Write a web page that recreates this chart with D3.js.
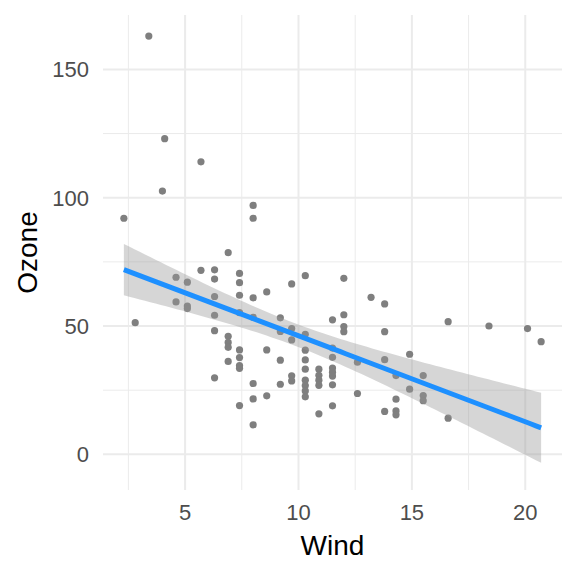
<!DOCTYPE html>
<html lang="en">
  <head>
    <meta charset="UTF-8" />
    <title>Ozone vs Wind</title>
    <script src="https://d3js.org/d3.v7.min.js"></script>
    <style>
      body {
        margin: 0;
        background: white;
      }
      svg {
        font-family: "Liberation Sans", Arial, sans-serif;
      }
      .tick-label {
        fill: #4d4d4d;
        font-size: 22px;
      }
      .axis-title {
        fill: black;
        font-size: 28px;
      }
    </style>
  </head>
  <body>
    <script>
      // wind / ozone pairs
      const wind = [
        3.4, 4.1, 4.0, 5.7, 2.3, 8.0, 8.0, 6.9, 5.7, 6.3, 6.3, 7.4, 7.4, 7.4,
        8.0, 4.6, 4.6, 5.1, 5.1, 5.1, 6.3, 6.3, 6.3, 6.3, 7.4, 7.4, 7.4, 7.4,
        7.4, 7.4, 8.0, 8.0, 8.0, 8.0, 2.8, 6.9, 6.9, 6.9, 6.9, 8.6, 8.6, 8.6,
        9.2, 9.2, 9.2, 9.2, 9.7, 9.7, 9.7, 9.7, 9.7, 10.3, 10.3, 10.3, 10.3,
        10.3, 10.3, 10.3, 10.3, 10.3, 10.9, 10.9, 10.9, 10.9, 10.9, 11.5, 11.5,
        11.5, 11.5, 11.5, 11.5, 11.5, 11.5, 12.0, 12.0, 12.0, 12.0, 12.6, 12.6,
        13.2, 13.8, 13.8, 13.8, 13.8, 14.3, 14.3, 14.3, 14.3, 14.9, 14.9, 15.5,
        15.5, 15.5, 16.6, 16.6, 18.4, 20.1, 20.7,
      ];
      const ozone = [
        163, 123, 102.6, 114, 92, 97, 92, 78.6, 71.7, 71.9, 68.3, 70.5, 66.9,
        62, 61, 69, 59.4, 67.1, 57.8, 56.8, 61.5, 54.2, 48.2, 29.8, 55.2, 40.7,
        37.7, 34.6, 33.5, 19, 53.4, 27.6, 21.6, 11.5, 51.3, 46, 43.6, 41.7,
        36.2, 63.3, 40.7, 22.8, 53.2, 47.9, 36.7, 27.3, 66.4, 49, 44.6, 30.6,
        28.6, 69.6, 46.8, 40.6, 36.8, 33.2, 28.9, 26.8, 24.7, 22.4, 33.2, 30.8,
        28.9, 26.9, 15.8, 52.4, 41.4, 37.8, 33.6, 32, 30.5, 27.1, 18.9, 68.6,
        54.4, 49.8, 47.8, 35.9, 23.7, 61.2, 58.6, 47.8, 36.9, 16.7, 30.7, 21.5,
        16.9, 15.4, 39, 25.4, 30.7, 22.9, 20.9, 51.7, 14.1, 50, 49, 43.9,
      ];
      const xTicks = [5, 10, 15, 20];
      const yTicks = [0, 50, 100, 150];
      // y limits
      const yDomain = [-13.9, 171.2];

      const W = 576,
        H = 576;
      const panel = { left: 103, right: 562, top: 15, bottom: 490 };

      const data = wind.map((w, i) => ({ wind: w, ozone: ozone[i] }));

      // linear fit with 95% confidence band (like geom_smooth(method = "lm"))
      const n = data.length;
      const xbar = d3.mean(wind),
        ybar = d3.mean(ozone);
      const sxx = d3.sum(wind, (x) => (x - xbar) ** 2);
      const sxy = d3.sum(data, (d) => (d.wind - xbar) * (d.ozone - ybar));
      const slope = sxy / sxx;
      const intercept = ybar - slope * xbar;
      const rss = d3.sum(data, (d) => (d.ozone - intercept - slope * d.wind) ** 2);
      const sigma = Math.sqrt(rss / (n - 2));
      const tq = 1.985;
      const [xmin, xmax] = d3.extent(wind);
      const fit = d3.range(80).map((i) => {
        const x = xmin + ((xmax - xmin) * i) / 79;
        const y = intercept + slope * x;
        const se = sigma * Math.sqrt(1 / n + (x - xbar) ** 2 / sxx);
        return { x, y, lo: y - tq * se, hi: y + tq * se };
      });

      const xPad = (xmax - xmin) * 0.05;

      const x = d3
        .scaleLinear()
        .domain([xmin - xPad, xmax + xPad])
        .range([panel.left, panel.right]);
      const y = d3
        .scaleLinear()
        .domain(yDomain)
        .range([panel.bottom, panel.top]);

      const svg = d3
        .select("body")
        .append("svg")
        .attr("width", W)
        .attr("height", H);

      svg.append("rect").attr("width", W).attr("height", H).attr("fill", "white");

      // grid: minor then major
      const xMinor = xTicks.map((t) => t - 2.5).filter((t) => t >= x.domain()[0]);
      const yMinor = yTicks.slice(1).map((t) => t - 25);
      const grid = svg.append("g").attr("stroke", "#ebebeb").attr("fill", "none");
      grid
        .selectAll(".vminor")
        .data(xMinor)
        .join("line")
        .attr("x1", (d) => x(d))
        .attr("x2", (d) => x(d))
        .attr("y1", panel.top)
        .attr("y2", panel.bottom)
        .attr("stroke-width", 1);
      grid
        .selectAll(".hminor")
        .data(yMinor)
        .join("line")
        .attr("x1", panel.left)
        .attr("x2", panel.right)
        .attr("y1", (d) => y(d))
        .attr("y2", (d) => y(d))
        .attr("stroke-width", 1);
      grid
        .selectAll(".vmajor")
        .data(xTicks)
        .join("line")
        .attr("x1", (d) => x(d))
        .attr("x2", (d) => x(d))
        .attr("y1", panel.top)
        .attr("y2", panel.bottom)
        .attr("stroke-width", 2);
      grid
        .selectAll(".hmajor")
        .data(yTicks)
        .join("line")
        .attr("x1", panel.left)
        .attr("x2", panel.right)
        .attr("y1", (d) => y(d))
        .attr("y2", (d) => y(d))
        .attr("stroke-width", 2);

      // points
      svg
        .append("g")
        .selectAll("circle")
        .data(data)
        .join("circle")
        .attr("cx", (d) => x(d.wind))
        .attr("cy", (d) => y(d.ozone))
        .attr("r", 3.6)
        .attr("fill", "#7f7f7f");

      // confidence ribbon
      svg
        .append("path")
        .datum(fit)
        .attr(
          "d",
          d3
            .area()
            .x((d) => x(d.x))
            .y0((d) => y(d.lo))
            .y1((d) => y(d.hi))
        )
        .attr("fill", "#999999")
        .attr("fill-opacity", 0.4);

      // regression line
      svg
        .append("path")
        .datum(fit)
        .attr(
          "d",
          d3
            .line()
            .x((d) => x(d.x))
            .y((d) => y(d.y))
        )
        .attr("fill", "none")
        .attr("stroke", "#1e90ff")
        .attr("stroke-width", 5);

      // tick labels
      svg
        .append("g")
        .selectAll("text")
        .data(xTicks)
        .join("text")
        .attr("class", "tick-label")
        .attr("x", (d) => x(d))
        .attr("y", 520)
        .attr("text-anchor", "middle")
        .text((d) => d);
      svg
        .append("g")
        .selectAll("text")
        .data(yTicks)
        .join("text")
        .attr("class", "tick-label")
        .attr("x", 89)
        .attr("y", (d) => y(d))
        .attr("dy", "0.36em")
        .attr("text-anchor", "end")
        .text((d) => d);

      // axis titles
      svg
        .append("text")
        .attr("class", "axis-title")
        .attr("x", (panel.left + panel.right) / 2)
        .attr("y", 555)
        .attr("text-anchor", "middle")
        .text("Wind");
      svg
        .append("text")
        .attr("class", "axis-title")
        .attr(
          "transform",
          `translate(37,${(panel.top + panel.bottom) / 2}) rotate(-90)`
        )
        .attr("text-anchor", "middle")
        .text("Ozone");
    </script>
  </body>
</html>
